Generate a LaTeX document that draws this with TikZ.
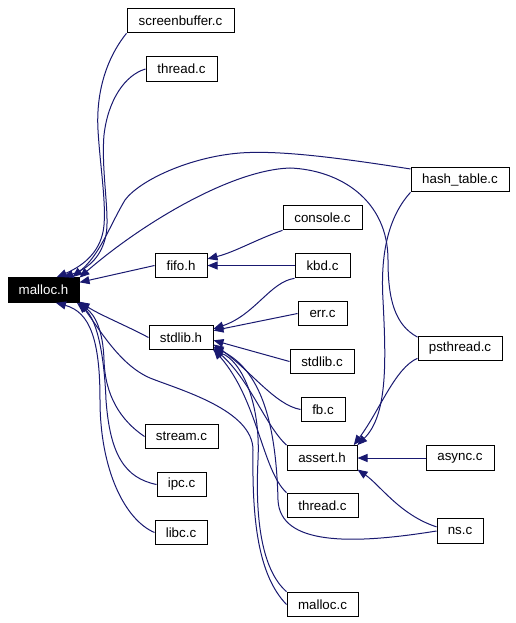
\documentclass[tikz,border=0pt]{standalone}
\usepackage{fontspec}
\setmainfont{Liberation Sans}
\usetikzlibrary{arrows.meta}
\definecolor{edgeblue}{HTML}{191970}

\begin{document}
\begin{tikzpicture}[
        x=0.75pt, y=-0.75pt,
        font=\fontsize{10}{12}\selectfont,
        file_box/.style={draw, rectangle, line width=0.75pt, inner sep=0pt, minimum height=18.5pt, minimum width=#1*0.75pt},
        root_box/.style={file_box=#1, fill=black, text=white},
        dep/.style={-{Triangle[length=7.5pt,width=6pt]}, draw=edgeblue, line width=0.75pt}
    ]
        \useasboundingbox (0,0) rectangle (516,623);

        % headers
        \node[root_box=71] (malloch) at (43.5,290) {malloc.h};
        \node[file_box=52] (fifoh) at (181,265.5) {fifo.h};
        \node[file_box=64] (stdlibh) at (181,337.5) {stdlib.h};
        \node[file_box=70] (asserth) at (322,458) {assert.h};

        % sources, left column
        \node[file_box=107] (scrbuf) at (180.5,20.5) {screenbuffer.c};
        \node[file_box=71] (threadt) at (181.5,69) {thread.c};
        \node[file_box=73] (streamc) at (181.5,436.5) {stream.c};
        \node[file_box=49] (ipcc) at (181.5,484.5) {ipc.c};
        \node[file_box=52] (libcc) at (181,532.5) {libc.c};

        % sources, middle column
        \node[file_box=79] (consolec) at (322.5,217.5) {console.c};
        \node[file_box=55] (kbdc) at (322.5,265.5) {kbd.c};
        \node[file_box=49] (errc) at (322.5,313.5) {err.c};
        \node[file_box=64] (stdlibc) at (322,361.5) {stdlib.c};
        \node[file_box=44] (fbc) at (323,409.5) {fb.c};
        \node[file_box=71] (threadb) at (322.5,505.5) {thread.c};
        \node[file_box=71] (mallocc) at (322.5,604.5) {malloc.c};

        % sources, right column
        \node[file_box=98] (hasht) at (460,179.5) {hash\_table.c};
        \node[file_box=84] (psthreadc) at (460,348.5) {psthread.c};
        \node[file_box=68] (asyncc) at (460,458) {async.c};
        \node[file_box=46] (nsc) at (460,531) {ns.c};

        % into malloc.h
        \draw[dep] (scrbuf.south west) .. controls (105,60) and (96,95) .. (98,130)
            .. controls (100,165) and (106,200) .. (104,225) .. controls (102,250) and (85,265) .. (malloch.44);
        \draw[dep] (threadt.west) .. controls (125,75) and (108,100) .. (104,135)
            .. controls (101,170) and (110,215) .. (106,235) .. controls (102,255) and (90,268) .. (malloch.33);
        \draw[dep] (hasht.168) .. controls (340,158) and (280,150) .. (240,153)
            .. controls (190,157) and (140,180) .. (125,200) .. controls (110,225) and (100,255) .. (malloch.24);
        \draw[dep] (psthreadc.165) .. controls (395,325) and (388,300) .. (388,260)
            .. controls (388,200) and (340,170) .. (290,168) .. controls (230,170) and (140,225) .. (malloch.19);
        \draw[dep] (fifoh.west) -- (malloch.12);
        \draw[dep] (stdlibh.west) .. controls (125,325) and (100,315) .. (malloch.-18);
        \draw[dep] (streamc.west) .. controls (120,420) and (105,395) .. (104,360)
            .. controls (103,330) and (95,315) .. (malloch.-20);
        \draw[dep] (ipcc.west) .. controls (125,478) and (110,455) .. (106,400)
            .. controls (104,350) and (96,318) .. (malloch.-21);
        \draw[dep] (libcc.west) .. controls (125,520) and (100,470) .. (100,400)
            .. controls (100,340) and (90,312) .. (malloch.-46);
        \draw[dep] (mallocc.west) .. controls (258,575) and (252,520) .. (253,450)
            .. controls (253,410) and (180,390) .. (150,378) .. controls (120,365) and (100,330) .. (malloch.-19);

        % into fifo.h
        \draw[dep] (consolec.south west) .. controls (255,240) and (235,252) .. (fifoh.14);
        \draw[dep] (kbdc.west) -- (fifoh.east);

        % into stdlib.h
        \draw[dep] (kbdc.south west) .. controls (270,282) and (255,315) .. (stdlibh.15);
        \draw[dep] (errc.west) -- (stdlibh.12);
        \draw[dep] (stdlibc.west) -- (stdlibh.-5);
        \draw[dep] (fbc.west) .. controls (275,405) and (250,370) .. (stdlibh.-12);
        \draw[dep] (asserth.north west) .. controls (265,425) and (250,380) .. (stdlibh.-18);
        \draw[dep] (threadb.north west) .. controls (262,470) and (258,400) .. (stdlibh.-20);
        \draw[dep] (nsc.west) .. controls (350,545) and (280,545) .. (278,500)
            .. controls (276,420) and (260,370) .. (stdlibh.-16);
        \draw[dep] (mallocc.north west) .. controls (262,570) and (255,520) .. (258,460)
            .. controls (261,400) and (240,360) .. (stdlibh.-22);

        % into assert.h
        \draw[dep] (asyncc.west) -- (asserth.east);
        \draw[dep] (nsc.170) .. controls (400,515) and (380,485) .. (asserth.-18);
        \draw[dep] (hasht.south west) .. controls (390,215) and (380,250) .. (383,300)
            .. controls (386,360) and (388,415) .. (asserth.20);
        \draw[dep] (psthreadc.193) .. controls (395,368) and (380,410) .. (asserth.22);
    \end{tikzpicture}
\end{document}
